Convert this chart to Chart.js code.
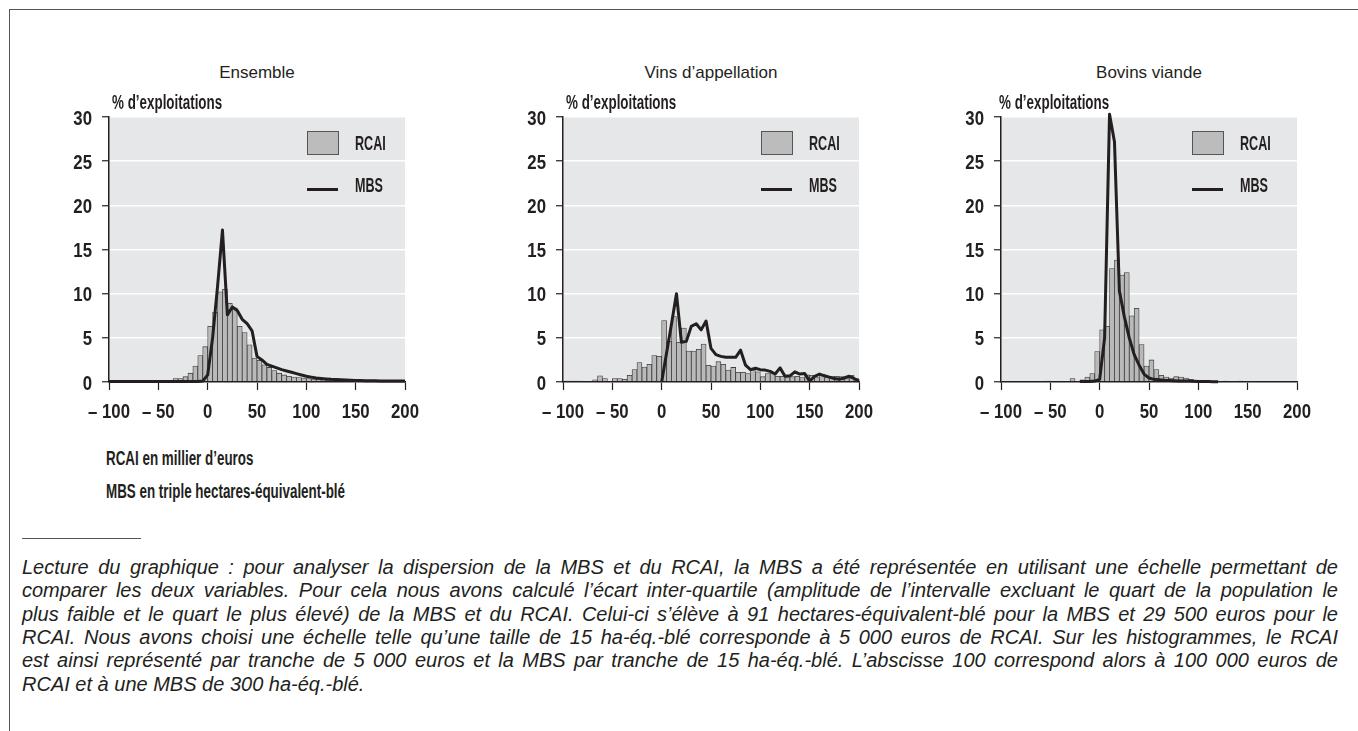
<!DOCTYPE html>
<html lang="fr">
<head>
<meta charset="utf-8">
<title>Dispersion de la MBS et du RCAI</title>
<script src="https://cdn.jsdelivr.net/npm/chart.js@4.4.1/dist/chart.umd.min.js"></script>
<style>
  body { margin: 0; background: #fff; }
  #page { position: relative; width: 1358px; height: 731px; overflow: hidden; color: #231f20;
          font-family: "Liberation Sans", Arial, sans-serif; }
  .frame-top { position: absolute; left: 9px; top: 9px; width: 1349px; border-top: 1.5px solid #555; }
  .frame-left { position: absolute; left: 9px; top: 9px; height: 722px; border-left: 1.5px solid #555; }
  canvas { position: absolute; top: 100px; }
  .title { position: absolute; top: 63px; width: 300px; text-align: center; font-size: 17px; line-height: 20px; }
  .cond { position: absolute; font-family: "Liberation Sans", Arial, sans-serif;
          font-weight: bold; font-size: 20px; line-height: 20px; white-space: nowrap;
          transform: scaleX(0.67); transform-origin: 0 50%; }
  .leg { font-size: 21px; transform: scaleX(0.6); }
  .legbox { position: absolute; top: 131px; width: 32px; height: 24px; box-sizing: border-box;
            background: #bcbcbc; border: 1.5px solid #555; }
  .legline { position: absolute; top: 188px; width: 31px; height: 3px; background: #231f20; }
  .sep { position: absolute; left: 22px; top: 538px; width: 119px; border-top: 1px solid #555; }
  .note { position: absolute; left: 22px; width: 1316px; font-style: italic; font-size: 20px; line-height: 23px;
          text-align: justify; text-align-last: justify; white-space: nowrap; }
  .note.last { text-align-last: left; }
</style>
</head>
<body>
<div id="page">
  <div class="frame-top"></div>
  <div class="frame-left"></div>
  <canvas id="c0" width="381" height="340"></canvas>
  <canvas id="c1" width="381" height="340"></canvas>
  <canvas id="c2" width="381" height="340"></canvas>
  <div class="cond" style="left:106px; top:448px;">RCAI en millier d’euros</div>
  <div class="cond" style="left:106px; top:481px;">MBS en triple hectares-équivalent-blé</div>
  <div class="sep"></div>
  <div id="notes"></div>
</div>
<script>
// Bins (lower bound of each 5-unit tranche) and MBS curve positions
const binStart = [-100, -95, -90, -85, -80, -75, -70, -65, -60, -55, -50, -45, -40, -35, -30, -25, -20, -15, -10, -5,
  0, 5, 10, 15, 20, 25, 30, 35, 40, 45, 50, 55, 60, 65, 70, 75, 80, 85, 90, 95,
  100, 105, 110, 115, 120, 125, 130, 135, 140, 145, 150, 155, 160, 165, 170, 175, 180, 185, 190, 195];
const lineX = [-100, -95, -90, -85, -80, -75, -70, -65, -60, -55, -50, -45, -40, -35, -30, -25, -20, -15, -10, -5,
  0, 5, 10, 15, 20, 25, 30, 35, 40, 45, 50, 55, 60, 65, 70, 75, 80, 85, 90, 95,
  100, 105, 110, 115, 120, 125, 130, 135, 140, 145, 150, 155, 160, 165, 170, 175, 180, 185, 190, 195, 200];

const xTicks = [-100, -50, 0, 50, 100, 150, 200];
const yTicks = [0, 5, 10, 15, 20, 25, 30];

const panelTitles = ["Ensemble", "Vins d’appellation", "Bovins viande"];

// % d'exploitations per RCAI tranche
const rcaiEnsemble = [0.05, 0.05, 0.05, 0.05, 0.05, 0.05, 0.05, 0.05, 0.05, 0.1, 0.1, 0.1,
  0.15, 0.4, 0.4, 0.6, 1.0, 1.8, 3.0, 4.0,
  6.3, 7.9, 10.2, 10.5, 8.9, 8.4, 6.3, 5.6, 4.2, 2.7,
  2.45, 1.95, 1.65, 1.3, 1.0, 0.8, 0.65, 0.55, 0.5, 0.45,
  0.4, 0.35, 0.3, 0.25, 0.2, 0.18, 0.15, 0.12, 0.1, 0.1,
  0.08, 0.08, 0.06, 0.06, 0.05, 0.05, 0.05, 0.04, 0.04, 0.04];
const rcaiVins = [0.1, 0.1, 0.1, 0.1, 0, 0.05, 0.25, 0.7, 0.4, 0.05,
  0.4, 0.4, 0.3, 0.75, 1.4, 2.2, 1.7, 2.0, 3.0, 2.9,
  6.95, 4.6, 7.4, 4.5, 6.1, 3.5, 3.5, 3.7, 4.3, 1.9,
  1.8, 2.3, 2.0, 1.35, 1.65, 1.1, 1.1, 0.95, 1.35, 1.15,
  0.6, 0.95, 0.95, 0.65, 0.65, 0.5, 0.6, 0.65, 0.5, 0.8,
  0.75, 0.5, 0.9, 0.5, 0.6, 0.65, 0.6, 0.5, 0.75, 0.4];
const rcaiBovins = [0, 0, 0, 0, 0, 0, 0, 0, 0, 0.1,
  0, 0, 0, 0, 0.4, 0.05, 0.25, 0.55, 0.95, 3.45,
  5.9, 6.3, 12.85, 13.8, 12.1, 12.4, 7.5, 8.35, 4.25, 1.8,
  2.5, 1.4, 0.75, 0.55, 0.45, 0.6, 0.55, 0.45, 0.3, 0.2,
  0.12, 0.1, 0.05, 0.05, 0.03, 0.1, 0.03, 0, 0.1, 0,
  0, 0, 0, 0, 0, 0, 0, 0, 0, 0];

// % d'exploitations per MBS tranche (same scale)
const mbsEnsemble = [0.05, 0.05, 0.05, 0.05, 0.05, 0.05, 0.05, 0.05, 0.05, 0.05,
  0.05, 0.05, 0.05, 0.05, 0.05, 0.05, 0.05, 0.05, 0.05, 0.1,
  0.8, 5.0, 10.8, 17.2, 7.6, 8.5, 8.1, 7.1, 6.6, 5.8,
  2.9, 2.5, 2.0, 1.8, 1.6, 1.4, 1.25, 1.1, 0.95, 0.8,
  0.65, 0.55, 0.45, 0.4, 0.35, 0.3, 0.28, 0.25, 0.22, 0.2,
  0.18, 0.16, 0.15, 0.14, 0.13, 0.12, 0.12, 0.11, 0.1, 0.1, 0.1];
const mbsVins = [null, null, null, null, null, null, null, null, null, null,
  null, null, null, null, null, null, null, null, null, null,
  0, 3.3, 6.6, 10, 4.5, 4.6, 6.3, 6.6, 5.9, 6.9,
  3.8, 3.1, 2.9, 2.8, 2.8, 2.8, 3.6, 1.9, 1.4, 1.55,
  1.4, 1.35, 1.2, 0.9, 1.6, 0.65, 0.7, 1.15, 0.9, 0.95,
  0.1, 0.65, 0.9, 0.7, 0.55, 0.4, 0.3, 0.45, 0.65, 0.4, 0.1];
const mbsBovins = [null, null, null, null, null, null, null, null, null, null,
  null, null, null, null, null, null, 0.05, 0.05, 0.05, 0.1,
  0.3, 5.0, 30.3, 27.2, 10.3, 7.4, 5.0, 3.1, 1.9, 0.9,
  0.45, 0.3, 0.25, 0.2, 0.18, 0.15, 0.12, 0.1, 0.1, 0.08,
  0.06, 0.05, 0.05, 0.04, 0.03, null, null, null, null, null,
  null, null, null, null, null, null, null, null, null, null, null];

const panels = [
  { rcai: rcaiEnsemble, mbs: mbsEnsemble, left: 109, legend: 198 },
  { rcai: rcaiVins, mbs: mbsVins, left: 563, legend: 198 },
  { rcai: rcaiBovins, mbs: mbsBovins, left: 1001, legend: 191 }
];

const noteLines = [
  "Lecture du graphique : pour analyser la dispersion de la MBS et du RCAI, la MBS a été représentée en utilisant une échelle permettant de",
  "comparer les deux variables. Pour cela nous avons calculé l’écart inter-quartile (amplitude de l’intervalle excluant le quart de la population le",
  "plus faible et le quart le plus élevé) de la MBS et du RCAI. Celui-ci s’élève à 91 hectares-équivalent-blé pour la MBS et 29 500 euros pour le",
  "RCAI. Nous avons choisi une échelle telle qu’une taille de 15 ha-éq.-blé corresponde à 5 000 euros de RCAI. Sur les histogrammes, le RCAI",
  "est ainsi représenté par tranche de 5 000 euros et la MBS par tranche de 15 ha-éq.-blé. L’abscisse 100 correspond alors à 100 000 euros de",
  "RCAI et à une MBS de 300 ha-éq.-blé."
];

const INK = "#231f20";
const TICK_FONT = "bold 21px 'Liberation Sans', Arial, sans-serif";

// grey plot background
const plotBackground = {
  id: "plotBackground",
  beforeDraw(chart) {
    const { ctx, chartArea: a } = chart;
    ctx.save();
    ctx.fillStyle = "#e6e7e8";
    ctx.fillRect(a.left, a.top, a.right - a.left, a.bottom - a.top);
    ctx.restore();
  }
};

// tick labels in a narrow face, placed with the chart's own scales
function drawCondensed(ctx, text, px, py, align) {
  ctx.save();
  ctx.translate(px, py + 7.5);
  ctx.scale(0.8, 1);
  ctx.font = TICK_FONT;
  ctx.fillStyle = INK;
  ctx.textAlign = align;
  ctx.textBaseline = "alphabetic";
  ctx.fillText(text, 0, 0);
  ctx.restore();
}
const condensedTicks = {
  id: "condensedTicks",
  afterDraw(chart) {
    const { ctx, scales: { x, y } } = chart;
    x.ticks.forEach(t => drawCondensed(ctx, t.value < 0 ? "– " + (-t.value) : String(t.value),
      x.getPixelForValue(t.value), x.top + 28, "center"));
    y.ticks.forEach(t => drawCondensed(ctx, String(t.value), y.right - 17, y.getPixelForValue(t.value), "right"));
  }
};

const page = document.getElementById("page");
function addDiv(cls, style, text) {
  const d = document.createElement("div");
  d.className = cls;
  d.setAttribute("style", style);
  if (text) d.textContent = text;
  page.appendChild(d);
}

panels.forEach((p, i) => {
  const canvas = document.getElementById("c" + i);
  canvas.style.left = (p.left - 70) + "px";

  // titles, axis caption and legend
  addDiv("title", `left:${p.left + 148 - 150}px;`, panelTitles[i]);
  addDiv("cond", `left:${p.left + (i === 2 ? -2 : 3)}px; top:92px;`, "% d’exploitations");
  const lx = p.left + p.legend;
  addDiv("legbox", `left:${lx}px;`);
  addDiv("cond leg", `left:${lx + 48}px; top:133px;`, "RCAI");
  addDiv("legline", `left:${lx}px;`);
  addDiv("cond leg", `left:${lx + 48}px; top:175px;`, "MBS");

  new Chart(canvas, {
    type: "bar",
    data: {
      datasets: [
        {
          type: "line",
          label: "MBS",
          data: lineX.map((x, k) => ({ x, y: p.mbs[k] })),
          borderColor: INK,
          borderWidth: 3,
          borderJoinStyle: "round",
          pointRadius: 0,
          tension: 0,
          clip: false,
          order: 0
        },
        {
          type: "bar",
          label: "RCAI",
          data: binStart.map((x, k) => ({ x: x + 2.5, y: p.rcai[k] })),
          backgroundColor: "#b9b9b9",
          borderColor: "#3d3d3d",
          borderWidth: 0.8,
          barPercentage: 1,
          categoryPercentage: 1,
          order: 1
        }
      ]
    },
    options: {
      responsive: false,
      animation: false,
      devicePixelRatio: 1,
      layout: { padding: { top: 17, right: 15, left: 0, bottom: 0 } },
      plugins: { legend: { display: false }, tooltip: { enabled: false } },
      scales: {
        x: {
          type: "linear",
          min: -100,
          max: 200,
          offset: false,
          grid: { offset: false, drawOnChartArea: false, tickLength: 8, tickColor: INK, tickWidth: 1.2 },
          border: { color: INK, width: 1.5, z: 1 },
          afterBuildTicks: s => { s.ticks = xTicks.map(v => ({ value: v })); },
          ticks: { display: false },
          afterFit: s => { s.height = 58; }
        },
        y: {
          min: 0,
          max: 30,
          grid: { color: "#ffffff", lineWidth: 1.5, tickLength: 7, tickColor: INK, tickWidth: 1.2 },
          border: { color: INK, width: 1.5, z: 1 },
          afterBuildTicks: s => { s.ticks = yTicks.map(v => ({ value: v })); },
          ticks: { display: false },
          afterFit: s => { s.width = 70; }
        }
      }
    },
    plugins: [plotBackground, condensedTicks]
  });
});

// footnote, one justified line each
const notes = document.getElementById("notes");
noteLines.forEach((t, k) => {
  const d = document.createElement("div");
  d.className = "note" + (k === noteLines.length - 1 ? " last" : "");
  d.style.top = (556 + k * 23.3) + "px";
  d.textContent = t;
  notes.appendChild(d);
});
</script>
</body>
</html>
